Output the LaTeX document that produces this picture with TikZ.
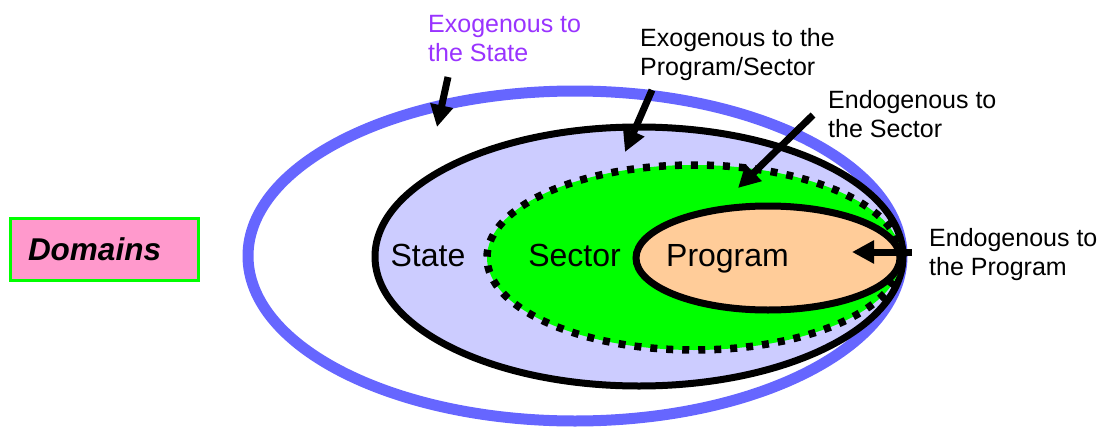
\documentclass[tikz,border=0pt]{standalone}
\usepackage{fontspec}
\setmainfont{Liberation Sans}
\usetikzlibrary{shapes.geometric,arrows.meta}

\definecolor{ringblue}{HTML}{6666FF}
\definecolor{statefill}{HTML}{CCCCFF}
\definecolor{sectorfill}{HTML}{00FF00}
\definecolor{programfill}{HTML}{FFCC99}
\definecolor{boxpink}{HTML}{FF99CC}
\definecolor{boxgreen}{HTML}{00FF00}
\definecolor{notepurple}{HTML}{9933FF}

\begin{document}
\begin{tikzpicture}[
  x=1pt, y=-1pt,
  region/.style={ellipse, inner sep=0pt, outer sep=0pt},
  note/.style={anchor=north west, inner sep=0pt, align=left,
               font=\fontsize{25}{29}\selectfont},
  inlabel/.style={anchor=base, inner sep=0pt, font=\fontsize{32}{36}\selectfont},
  pointer/.style={line width=7pt, -{Triangle[length=22pt,width=22pt]}}
]
\useasboundingbox (0,0) rectangle (1100,428);

% nested domains
\node[region, draw=ringblue, line width=11pt,
      minimum width=654pt, minimum height=330pt] (outer) at (575,256) {};
\node[region, draw=black, fill=statefill, line width=7pt,
      minimum width=528pt, minimum height=259pt] (state) at (639,256.5) {};
\node[region, fill=sectorfill, draw=black, line width=7.5pt,
      dash pattern=on 7pt off 9pt, line cap=butt,
      minimum width=414pt, minimum height=185pt] (sector) at (694,257.5) {};
\node[region, draw=black, fill=programfill, line width=7pt,
      minimum width=264pt, minimum height=104pt] (program) at (768,258) {};

% region names
\node[inlabel] (statename)   at (428,266)   {State};
\node[inlabel] (sectorname)  at (574.5,266) {Sector};
\node[inlabel] (programname) at (727.5,266) {Program};

% legend box
\node[draw=boxgreen, line width=3pt, fill=boxpink,
      text width=152pt, inner xsep=18pt, minimum height=62pt, align=left,
      font=\fontsize{31.5}{34}\selectfont\bfseries\itshape] (domains) at (104,249) {Domains};

% annotations
\node[note, text=notepurple] (exostate) at (428,15) {Exogenous to\\the State};
\node[note] (exoprog) at (640,28) {Exogenous to the\\Program/Sector};
\node[note] (endosect) at (828,90) {Endogenous to\\the Sector};
\node[note] (endoprog) at (929,228) {Endogenous to\\the Program};

% arrow ends
\coordinate (t1) at (448,77);  \coordinate (h1) at (437,127);
\coordinate (t2) at (652,90);  \coordinate (h2) at (625,152);
\coordinate (t3) at (813,115); \coordinate (h3) at (738,188);
\coordinate (t4) at (912,252); \coordinate (h4) at (852,252);

\draw[pointer] (t1) -- (h1);
\draw[pointer] (t2) -- (h2);
\draw[pointer] (t3) -- (h3);
\draw[pointer] (t4) -- (h4);
\end{tikzpicture}
\end{document}
